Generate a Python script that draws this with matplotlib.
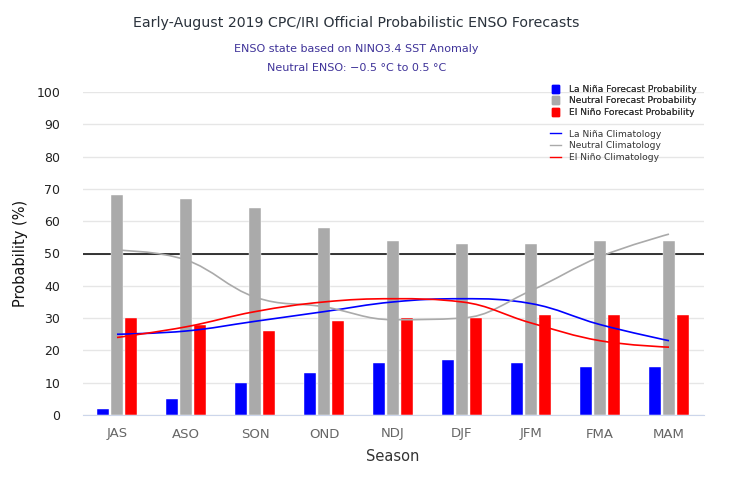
import numpy as np
import matplotlib
matplotlib.use("Agg")
import matplotlib.pyplot as plt
from matplotlib.path import Path
from matplotlib.patches import PathPatch
from matplotlib.lines import Line2D
from matplotlib.patches import Patch

seasons = ["JAS", "ASO", "SON", "OND", "NDJ", "DJF", "JFM", "FMA", "MAM"]
lanina_prob = [2, 5, 10, 13, 16, 17, 16, 15, 15]
neutral_prob = [68, 67, 64, 58, 54, 53, 53, 54, 54]
elnino_prob = [30, 28, 26, 29, 30, 30, 31, 31, 31]

lanina_clim = [25, 26, 29, 32, 35, 36, 34.5, 28, 23]
neutral_clim = [51, 48, 36.5, 33.5, 29.5, 30, 38.5, 49, 56]
elnino_clim = [24, 27.3, 32, 35, 36, 35, 28.5, 23, 21]

C_BLUE = "#0000ff"
C_GRAY = "#aaaaaa"
C_RED = "#ff0000"


def spline_path(xs, ys, smoothing=1.5):
    """Highcharts-style spline through the given points (bezier segments)."""
    n = len(xs)
    denom = smoothing + 1
    lc = [None] * n
    rc = [None] * n
    for i in range(n):
        if 0 < i < n - 1:
            px, py = xs[i], ys[i]
            lx, ly = xs[i - 1], ys[i - 1]
            nx, ny = xs[i + 1], ys[i + 1]
            lcx = (smoothing * px + lx) / denom
            lcy = (smoothing * py + ly) / denom
            rcx = (smoothing * px + nx) / denom
            rcy = (smoothing * py + ny) / denom
            corr = 0
            if rcx != lcx:
                corr = (rcy - lcy) * (rcx - px) / (rcx - lcx) + py - rcy
            lcy += corr
            rcy += corr
            if lcy > ly and lcy > py:
                lcy = max(ly, py)
                rcy = 2 * py - lcy
            elif lcy < ly and lcy < py:
                lcy = min(ly, py)
                rcy = 2 * py - lcy
            if rcy > ny and rcy > py:
                rcy = max(ny, py)
                lcy = 2 * py - rcy
            elif rcy < ny and rcy < py:
                rcy = min(ny, py)
                lcy = 2 * py - rcy
            lc[i] = (lcx, lcy)
            rc[i] = (rcx, rcy)
    verts = [(xs[0], ys[0])]
    codes = [Path.MOVETO]
    for i in range(1, n):
        c1 = rc[i - 1] if rc[i - 1] is not None else (xs[i - 1], ys[i - 1])
        c2 = lc[i] if lc[i] is not None else (xs[i], ys[i])
        verts += [c1, c2, (xs[i], ys[i])]
        codes += [Path.CURVE4] * 3
    return Path(verts, codes)


fig = plt.figure(figsize=(7.3, 4.8), dpi=100)
ax = fig.add_axes([82.5 / 730, 65 / 480, 621 / 730, 323 / 480])

x = np.arange(len(seasons))
bw = 0.17
off = 0.2
ax.bar(x - off, lanina_prob, bw, color=C_BLUE, zorder=3, edgecolor="white", linewidth=0.3)
ax.bar(x, neutral_prob, bw, color=C_GRAY, zorder=3, edgecolor="white", linewidth=0.3)
ax.bar(x + off, elnino_prob, bw, color=C_RED, zorder=3, edgecolor="white", linewidth=0.3)

ax.axhline(50, color="black", lw=1.1, zorder=2)

for vals, col in [(lanina_clim, C_BLUE), (neutral_clim, C_GRAY), (elnino_clim, C_RED)]:
    p = spline_path(list(x.astype(float)), vals)
    ax.add_patch(PathPatch(p, facecolor="none", edgecolor=col, lw=1.2, zorder=4))

ax.set_xlim(-0.5, len(seasons) - 0.5)
ax.set_ylim(0, 100)
ax.set_yticks(np.arange(0, 101, 10))
ax.set_xticks(x)
ax.set_xticklabels(seasons, color="#666666", fontsize=9.5)
ax.tick_params(axis="y", length=0, labelsize=9, labelcolor="#222222", pad=16)
ax.tick_params(axis="x", length=0, pad=9)
ax.grid(axis="y", color="#e6e6e6", lw=1, zorder=0)
ax.set_axisbelow(True)
for s in ["top", "right", "left"]:
    ax.spines[s].set_visible(False)
ax.spines["bottom"].set_color("#ccd6eb")
ax.spines["bottom"].set_zorder(5)

ax.set_xlabel("Season", fontsize=10.5, color="#333333", labelpad=6)
ax.set_ylabel("Probability (%)", fontsize=10.5, color="#111111", labelpad=6)

fig.text(0.488, 0.953, "Early-August 2019 CPC/IRI Official Probabilistic ENSO Forecasts",
         ha="center", va="center", fontsize=10.2, color="#2a323c")
fig.text(0.488, 0.898, "ENSO state based on NINO3.4 SST Anomaly",
         ha="center", va="center", fontsize=8.0, color="#3f3399")
fig.text(0.488, 0.858, "Neutral ENSO: \u22120.5 \u00b0C to 0.5 \u00b0C",
         ha="center", va="center", fontsize=8.0, color="#3f3399")

h1 = [Patch(color=C_BLUE), Patch(color=C_GRAY), Patch(color=C_RED)]
l1 = ["La Niña Forecast Probability", "Neutral Forecast Probability", "El Niño Forecast Probability"]
leg1 = fig.legend(h1, l1, loc="upper left", bbox_to_anchor=(547 / 730, 1 - 80 / 480),
                  frameon=False, fontsize=6.6, handlelength=0.8, handleheight=1.0,
                  handletextpad=1.1, labelspacing=0.25, borderpad=0, labelcolor="#333333")
h2 = [Line2D([], [], color=C_BLUE, lw=1), Line2D([], [], color=C_GRAY, lw=1),
      Line2D([], [], color=C_RED, lw=1)]
l2 = ["La Niña Climatology", "Neutral Climatology", "El Niño Climatology"]
fig.legend(h2, l2, loc="upper left", bbox_to_anchor=(545 / 730, 1 - 125 / 480),
           frameon=False, fontsize=6.6, handlelength=1.2,
           handletextpad=0.9, labelspacing=0.3, borderpad=0, labelcolor="#333333")
fig.add_artist(leg1)

fig.savefig("out.png", dpi=100)
